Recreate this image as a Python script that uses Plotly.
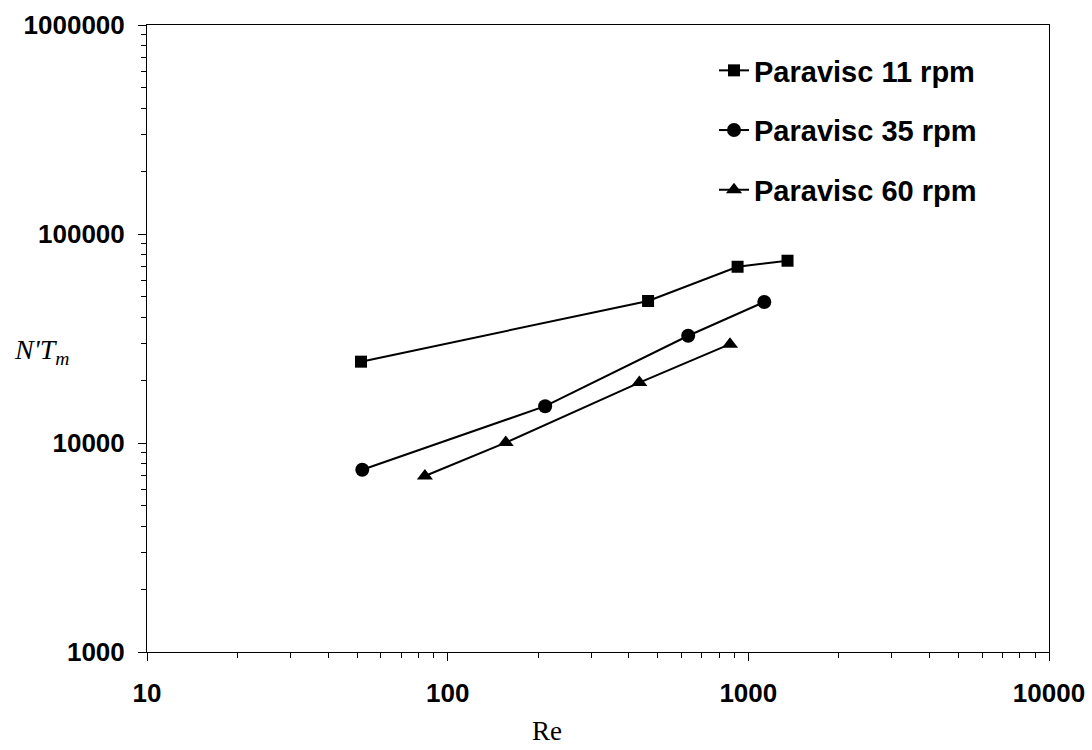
import plotly.graph_objects as go

# Reynolds number vs. N'T_m for Paravisc at three impeller speeds
re_11 = [51.5, 464, 921, 1350]
nt_11 = [24500, 47800, 69700, 74500]

re_35 = [52, 211, 631, 1130]
nt_35 = [7450, 15000, 32600, 47300]

re_60 = [84, 156, 434, 869]
nt_60 = [6950, 10050, 19450, 29700]

series = [
    ("Paravisc 11 rpm", re_11, nt_11, "square", 12),
    ("Paravisc 35 rpm", re_35, nt_35, "circle", 14),
    ("Paravisc 60 rpm", re_60, nt_60, "triangle-up", 14),
]

x_ticks = [10, 100, 1000, 10000]
x_tick_text = ["10", "100", "1000", "10000"]
y_ticks = [1000, 10000, 100000, 1000000]
y_tick_text = ["1000", "10000", "100000", "1000000"]

# minor ticks at 2..9 of every decade
x_minor = [m * d for d in (10, 100, 1000) for m in range(2, 10)]
y_minor = [m * d for d in (1000, 10000, 100000) for m in range(2, 10)]

SANS = "Liberation Sans, Arial, sans-serif"
SERIF = "Liberation Serif, Times New Roman, serif"

fig = go.Figure()
for i, (name, xs, ys, sym, size) in enumerate(series):
    fig.add_trace(go.Scatter(
        x=xs, y=ys, name=name, mode="lines+markers",
        legendgroup=f"g{i}",
        line=dict(color="black", width=2),
        marker=dict(symbol=sym, size=size, color="black"),
    ))

axis_common = dict(
    type="log",
    automargin=False,
    showgrid=False,
    zeroline=False,
    showline=True,
    linecolor="black",
    linewidth=1,
    mirror=True,
    ticks="outside",
    ticklen=8,
    tickcolor="black",
    tickfont=dict(family=SANS, size=26, color="black", weight="bold"),
)

fig.update_xaxes(
    **axis_common,
    range=[1, 4],
    tickvals=x_ticks,
    ticktext=x_tick_text,
    ticklabelstandoff=10,
    minor=dict(tickvals=x_minor, ticks="outside", ticklen=5, tickcolor="black", showgrid=False),
)
fig.update_yaxes(
    **axis_common,
    range=[3, 6],
    tickvals=y_ticks,
    ticktext=y_tick_text,
    ticklabelstandoff=8,
    minor=dict(tickvals=y_minor, ticks="outside", ticklen=5, tickcolor="black", showgrid=False),
)

fig.add_annotation(
    text="Re", xref="paper", yref="paper", x=(547 - 147) / 902, y=-(731 - 652) / 627,
    showarrow=False, xanchor="center", yanchor="middle",
    font=dict(family=SERIF, size=27, color="black"),
)
fig.add_annotation(
    text="<i>N'T<sub>m</sub></i>", xref="paper", yref="paper",
    x=-(147 - 12) / 902, y=(652 - 352) / 627,
    showarrow=False, xanchor="left", yanchor="middle",
    font=dict(family=SERIF, size=28, color="black"),
)

fig.update_layout(
    width=1092, height=750,
    margin=dict(l=147, r=43, t=25, b=98),
    paper_bgcolor="white",
    plot_bgcolor="white",
    showlegend=True,
    legend=dict(
        x=(714 - 147) / 902, y=1 - (45 - 25) / 627,
        xanchor="left", yanchor="top",
        bgcolor="rgba(0,0,0,0)",
        font=dict(family=SANS, size=29, color="black", weight="bold"),
        tracegroupgap=19,
        itemwidth=30,
    ),
)

fig.write_html("out.html")
